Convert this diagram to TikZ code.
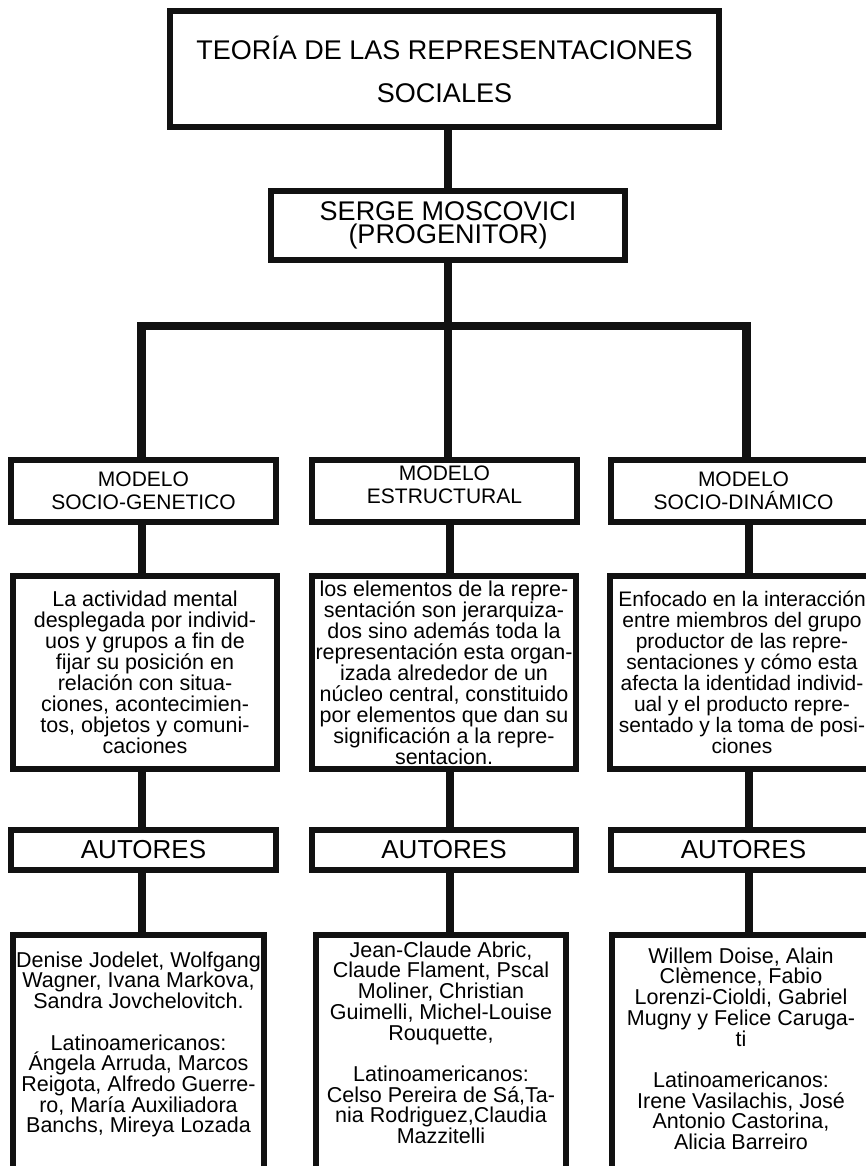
\documentclass[tikz,border=0pt]{standalone}
\usepackage{fontspec}
\setmainfont{Liberation Sans}
\definecolor{ink}{HTML}{111111}
\begin{document}
\lineskiplimit=-50pt
\begin{tikzpicture}[x=1pt,y=-1pt]
\tikzset{
  boxs/.style={draw=ink, line width=6pt, fill=white, inner sep=0pt, align=center, text=black},
  conn/.style={draw=ink, line width=8.5pt, line join=miter},
  fontt/.style={font=\fontsize{27}{43}\selectfont},
  fontm/.style={font=\fontsize{27}{22.5}\selectfont},
  fontmod/.style={font=\fontsize{21}{23}\selectfont},
  fontd/.style={font=\fontsize{21.5}{21}\selectfont},
  fonta/.style={font=\fontsize{26}{26}\selectfont},
  fontp/.style={font=\fontsize{21.5}{20.7}\selectfont},
  modbox/.style={boxs, minimum width=265pt, minimum height=62pt, fontmod},
  descbox/.style={boxs, minimum width=264pt, minimum height=193pt, fontd},
  autbox/.style={boxs, minimum width=265pt, minimum height=40pt, fonta},
  perbox/.style={boxs, minimum height=255pt},
  pertext/.style={anchor=north, inner sep=0pt, align=center, fontp},
}
\useasboundingbox (0,0) rectangle (866,1166);
\clip (0,0) rectangle (866,1166);
\fill[white] (0,0) rectangle (866,1166);

% top
\node[boxs, fontt, minimum width=549pt, minimum height=116pt] (title) at (444.5,69)
  {TEORÍA DE LAS REPRESENTACIONES\\SOCIALES};
\node[boxs, fontm, minimum width=354pt, minimum height=69pt] (mosc) at (448,225.5)
  {SERGE MOSCOVICI\\(PROGENITOR)};

% models
\node[modbox] (m1) at (143.5,491) {MODELO\\SOCIO-GENETICO};
\node[modbox] (m2) at (444.5,491) {};
\node[inner sep=0pt, align=center, fontmod] (m2t) at (444.5,485) {MODELO\\ESTRUCTURAL};
\node[modbox] (m3) at (743.5,491) {MODELO\\SOCIO-DINÁMICO};

% descriptions
\node[descbox] (d1) at (145,672.5) {La actividad mental\\desplegada por individ-\\uos y grupos a fin de\\fijar su posición en\\relación con situa-\\ciones, acontecimien-\\tos, objetos y comuni-\\caciones};
\node[descbox] (d2) at (444,672.5) {los elementos de la repre-\\sentación son jerarquiza-\\dos sino además toda la\\representación esta organ-\\izada alrededor de un\\núcleo central, constituido\\por elementos que dan su\\significación a la repre-\\sentacion.};
\node[descbox, font=\fontsize{21}{21}\selectfont] (d3) at (742,672.5) {Enfocado en la interacción\\entre miembros del grupo\\productor de las repre-\\sentaciones y cómo esta\\afecta la identidad individ-\\ual y el producto repre-\\sentado y la toma de posi-\\ciones};

% autores
\node[autbox] (au1) at (143.5,850) {AUTORES};
\node[autbox, minimum width=264pt] (au2) at (444,850) {AUTORES};
\node[autbox] (au3) at (743.5,850) {AUTORES};

% author lists
\node[perbox, minimum width=251pt] (p1) at (138.5,1062.5) {};
\node[perbox, minimum width=250pt] (p2) at (441,1062.5) {};
\node[perbox, minimum width=258pt] (p3) at (741,1062.5) {};
\node[pertext] (p1t) at (138.5,951.5) {Denise Jodelet, Wolfgang\\Wagner, Ivana Markova,\\Sandra Jovchelovitch.\\[20.7pt]Latinoamericanos:\\Ángela Arruda, Marcos\\Reigota, Alfredo Guerre-\\ro, María Auxiliadora\\Banchs, Mireya Lozada};
\node[pertext] (p2t) at (441,941.5) {Jean-Claude Abric,\\Claude Flament, Pscal\\Moliner, Christian\\Guimelli, Michel-Louise\\Rouquette,\\[20.7pt]Latinoamericanos:\\Celso Pereira de Sá,Ta-\\nia Rodriguez,Claudia\\Mazzitelli};
\node[pertext] (p3t) at (741,947.5) {Willem Doise, Alain\\Clèmence, Fabio\\Lorenzi-Cioldi, Gabriel\\Mugny y Felice Caruga-\\ti\\[20.7pt]Latinoamericanos:\\Irene Vasilachis, José\\Antonio Castorina,\\Alicia Barreiro};

% connectors
\coordinate (c1) at (141.5,326);
\coordinate (c2) at (448,326);
\coordinate (c3) at (746.5,326);
\coordinate (k1) at (142,0);
\coordinate (k2) at (450,0);
\coordinate (k3) at (749,0);
\draw[conn] (c2 |- title.south) -- (c2 |- mosc.north);
\draw[conn] (c2 |- mosc.south) -- (c2 |- m2.north);
\draw[conn] (c1 |- m1.north) -- (c1) -- (c3) -- (c3 |- m3.north);
\draw[conn] (k1 |- m1.south) -- (k1 |- d1.north);
\draw[conn] (k2 |- m2.south) -- (k2 |- d2.north);
\draw[conn] (k3 |- m3.south) -- (k3 |- d3.north);
\draw[conn] (k1 |- d1.south) -- (k1 |- au1.north);
\draw[conn] (k2 |- d2.south) -- (k2 |- au2.north);
\draw[conn] (k3 |- d3.south) -- (k3 |- au3.north);
\draw[conn] (k1 |- au1.south) -- (k1 |- p1.north);
\draw[conn] (k2 |- au2.south) -- (k2 |- p2.north);
\draw[conn] (k3 |- au3.south) -- (k3 |- p3.north);
\end{tikzpicture}
\end{document}
